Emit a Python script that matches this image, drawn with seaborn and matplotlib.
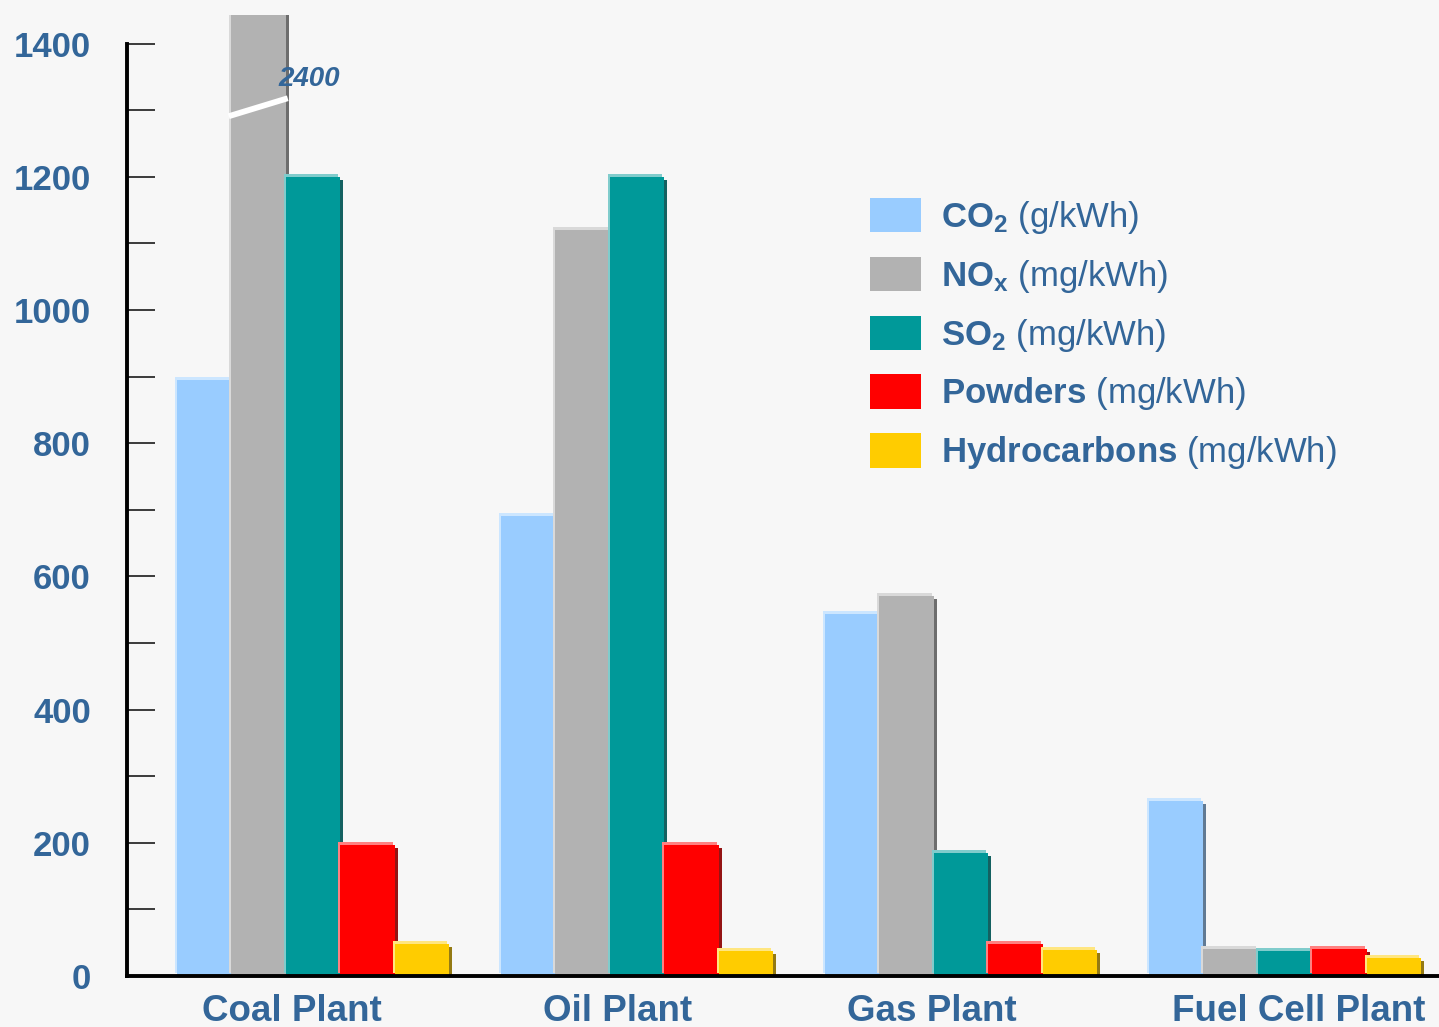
import numpy as np
import pandas as pd
import seaborn as sns
import matplotlib
matplotlib.use("Agg")
import matplotlib.pyplot as plt
from matplotlib.patches import Rectangle
from matplotlib.transforms import offset_copy, ScaledTranslation
from matplotlib.colors import to_rgb

# ---- data -------------------------------------------------------------
plants = ["Coal Plant", "Oil Plant", "Gas Plant", "Fuel Cell Plant"]
pollutants = ["CO2", "NOx", "SO2", "Powders", "Hydrocarbons"]
co2 = [895, 690, 543, 263]            # g/kWh
nox = [2400, 1120, 570, 40]           # mg/kWh
so2 = [1200, 1200, 185, 38]           # mg/kWh
powders = [197, 197, 48, 40]          # mg/kWh
hydrocarbons = [48, 38, 39, 27]       # mg/kWh
legend_labels = [
    r"$\mathbf{CO_2}$ (g/kWh)",
    r"$\mathbf{NO_x}$ (mg/kWh)",
    r"$\mathbf{SO_2}$ (mg/kWh)",
    r"$\mathbf{Powders}$ (mg/kWh)",
    r"$\mathbf{Hydrocarbons}$ (mg/kWh)",
]
y_ticks = [0, 200, 400, 600, 800, 1000, 1200, 1400]
colors = ["#99ccff", "#b2b2b2", "#009999", "#ff0000", "#ffcc00"]
text_blue = "#336699"
bg = "#f7f7f7"

series = [co2, nox, so2, powders, hydrocarbons]
df = pd.DataFrame({
    "plant": plants * len(pollutants),
    "pollutant": np.repeat(pollutants, len(plants)),
    "value": np.concatenate(series),
})

# ---- styling ----------------------------------------------------------
sns.set_style("white")
plt.rcParams["font.family"] = ["Liberation Sans", "DejaVu Sans"]
plt.rcParams["mathtext.fontset"] = "custom"
plt.rcParams["mathtext.rm"] = "Liberation Sans"
plt.rcParams["mathtext.bf"] = "Liberation Sans:bold"
plt.rcParams["mathtext.it"] = "Liberation Sans:italic"

fig = plt.figure(figsize=(14.39, 10.27), dpi=100, facecolor=bg)
ax = fig.add_axes([127 / 1439, 51 / 1027, 1 - 127 / 1439, 961 / 1027])
ax.set_facecolor(bg)

sns.barplot(data=df, x="plant", y="value", hue="pollutant",
            hue_order=pollutants, order=plants, palette=colors,
            width=0.84, saturation=1, linewidth=0, legend=False, ax=ax,
            errorbar=None)

ax.set_ylim(0, 1443)
ax.set_xlim(-0.574, 3.475)

# ---- pseudo-3D shading: a light edge up-left and a dark edge down-right --
bars = sorted(list(ax.patches), key=lambda p: p.get_x())
for i, p in enumerate(bars):
    base = 1.0 + i * 0.01
    c = np.array(to_rgb(p.get_facecolor()))
    dark = c * 0.5 + 0.08
    light = c + (1 - c) * 0.5
    x, y, w, h = p.get_x(), p.get_y(), p.get_width(), p.get_height()
    shadow = Rectangle((x, y), w, h, facecolor=np.clip(dark, 0, 1), linewidth=0,
                       transform=offset_copy(ax.transData, fig, x=3, y=-3, units="dots"),
                       zorder=base)
    glow = Rectangle((x, y), w, h, facecolor=light, linewidth=0,
                     transform=offset_copy(ax.transData, fig, x=-2, y=3, units="dots"),
                     zorder=base + 0.002)
    ax.add_patch(shadow)
    ax.add_patch(glow)
    p.set_zorder(base + 0.004)

# ---- broken bar marker for the off-scale NOx value ----------------------
tall = max(bars, key=lambda p: p.get_height())
x0, x1 = tall.get_x(), tall.get_x() + tall.get_width()
ax.plot([x0 - 0.008, x1 + 0.006], [1291, 1318], color="white", lw=4.2,
        solid_capstyle="butt", zorder=3, clip_on=False)
ax.annotate(f"{int(tall.get_height())}", xy=(x1, 1347), xytext=(-5, 0),
            textcoords="offset points", ha="left", va="center",
            fontsize=20, fontweight="bold", fontstyle="italic",
            color=text_blue, zorder=4)

# ---- axes ---------------------------------------------------------------
for side in ["top", "right"]:
    ax.spines[side].set_visible(False)
ax.spines["left"].set_bounds(0, 1400)
ax.spines["left"].set_linewidth(2.8)
ax.spines["left"].set_color("black")
ax.spines["bottom"].set_linewidth(2.8)
ax.spines["bottom"].set_color("black")
ax.spines["bottom"].set_zorder(5)

ax.set_yticks(y_ticks)
ax.set_yticklabels([str(v) for v in y_ticks])
ax.set_yticks(np.arange(100, 1400, 200), minor=True)
ax.tick_params(axis="y", which="both", left=True, direction="in", length=20,
               width=1.4, color="#3a3a3a", pad=26)
ax.tick_params(axis="y", which="major", labelsize=25, labelcolor=text_blue)
for lbl in ax.get_yticklabels():
    lbl.set_fontweight("bold")

ax.tick_params(axis="x", bottom=False, length=0, pad=13, labelsize=26.5,
               labelcolor=text_blue)
label_shift_px = [-21, -19, -29, 14]
for lbl, dx in zip(ax.get_xticklabels(), label_shift_px):
    lbl.set_fontweight("bold")
    lbl.set_transform(lbl.get_transform() +
                      ScaledTranslation(dx / 100, 0, fig.dpi_scale_trans))
ax.set_xlabel("")
ax.set_ylabel("")

# ---- legend ---------------------------------------------------------------
handles = [Rectangle((0, 0), 1, 1, facecolor=c, linewidth=0) for c in colors]
leg = fig.legend(handles, legend_labels, loc="upper left",
                 bbox_to_anchor=(870 / 1439, 1 - 198 / 1027),
                 bbox_transform=fig.transFigure, frameon=False,
                 fontsize=25, labelcolor=text_blue, handlelength=1.47,
                 handleheight=1.15, handletextpad=0.58, labelspacing=0.6,
                 borderpad=0, borderaxespad=0)

fig.savefig("out.png", dpi=100, facecolor=bg)
